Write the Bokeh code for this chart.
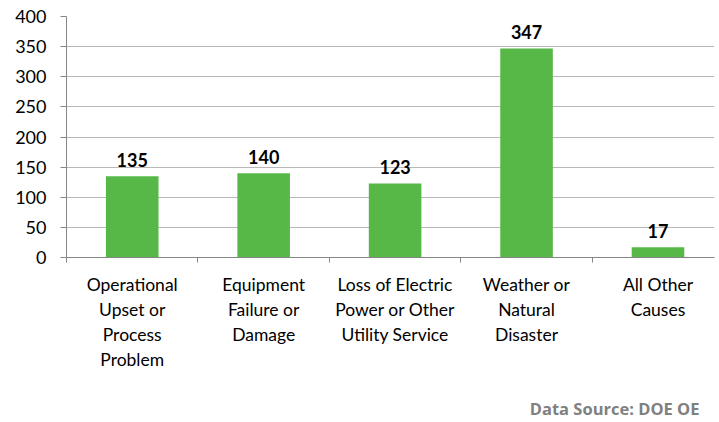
from bokeh.plotting import figure
from bokeh.models import ColumnDataSource, FixedTicker, LinearAxis, Range1d
from bokeh.embed import file_html
from bokeh.resources import INLINE
from bokeh.core.properties import value

categories = ["Operational\nUpset or\nProcess\nProblem",
              "Equipment\nFailure or\nDamage",
              "Loss of Electric\nPower or Other\nUtility Service",
              "Weather or\nNatural\nDisaster",
              "All Other\nCauses"]
counts = [135, 140, 123, 347, 17]
y_ticks = [0, 50, 100, 150, 200, 250, 300, 350, 400]
source_note = "Data Source: DOE OE"

FONT = "Lato"
GREEN = "#57B848"
NOTE_X = 4.17  # centre of the source note, in category units

xs = [i + 0.5 for i in range(len(categories))]
src = ColumnDataSource(dict(x=xs, top=counts, lab=[str(c) for c in counts]))

p = figure(width=719, height=422, output_backend="svg", toolbar_location=None,
           x_range=Range1d(0, 4.93), y_range=Range1d(0, 400),
           min_border_left=66, min_border_right=5, min_border_top=16, min_border_bottom=164,
           x_axis_location=None, y_axis_location=None)
p.outline_line_color = None
p.background_fill_color = "white"
p.border_fill_color = "white"

p.vbar(x="x", top="top", width=0.4, bottom=0, source=src, color=GREEN, line_color=None)
p.text(x="x", y="top", text="lab", source=src, text_align="center", text_baseline="bottom",
       y_offset=-9, text_font=value(FONT), text_font_size="18px", text_font_style="bold",
       text_color="black")

# y axis
yax = LinearAxis(ticker=FixedTicker(ticks=y_ticks))
yax.axis_line_color = "#868686"
yax.major_tick_line_color = "#868686"
yax.major_tick_out = 6
yax.major_tick_in = 0
yax.minor_tick_line_color = None
yax.major_label_standoff = 14
yax.major_label_text_font = FONT
yax.major_label_text_font_size = "18px"
yax.major_label_text_color = "black"
p.add_layout(yax, "left")

# x axis
xax = LinearAxis(ticker=FixedTicker(ticks=xs, minor_ticks=[0, 1, 2, 3, 4, 5]))
xax.major_label_overrides = {x: c for x, c in zip(xs, categories)}
xax.axis_line_color = "#868686"
xax.major_tick_line_color = None
xax.minor_tick_line_color = "#868686"
xax.minor_tick_out = 5
xax.minor_tick_in = 0
xax.major_label_standoff = 10
xax.major_label_text_font = FONT
xax.major_label_text_font_size = "17.5px"
xax.major_label_text_color = "black"
xax.major_label_text_align = "center"
p.add_layout(xax, "below")

# source note as a label-only axis below the category axis
nax = LinearAxis(ticker=FixedTicker(ticks=[NOTE_X], minor_ticks=[]))
nax.major_label_overrides = {NOTE_X: source_note}
nax.axis_line_color = None
nax.major_tick_line_color = None
nax.minor_tick_line_color = None
nax.major_tick_out = 0
nax.major_tick_in = 0
nax.major_label_standoff = 23
nax.major_label_text_font = "Open Sans"
nax.major_label_text_font_size = "16.5px"
nax.major_label_text_font_style = "bold"
nax.major_label_text_color = "#808080"
p.add_layout(nax, "below")

p.xgrid.visible = False
p.ygrid.ticker = FixedTicker(ticks=y_ticks)
p.ygrid.grid_line_color = "#B8B8B8"

open("out.html", "w").write(file_html(p, INLINE))
